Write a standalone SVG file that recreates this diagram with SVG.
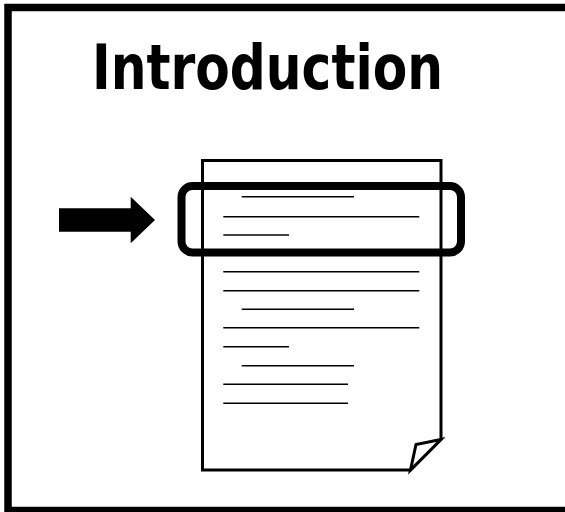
<svg xmlns="http://www.w3.org/2000/svg" width="565" height="512" viewBox="0 0 565 512">
<style>
.frame{fill:none;stroke:#000;stroke-width:7.5}
.doc{fill:#fff;stroke:#000;stroke-width:3;stroke-linejoin:miter}
.ln{stroke:#000;stroke-width:1.4}
.hl{fill:none;stroke:#000;stroke-width:8}
.title{font-family:"Comic Sans MS","DejaVu Sans",sans-serif;font-weight:bold;font-size:63px;fill:#000}
</style>
<rect width="565" height="512" fill="#fff"/>
<rect class="frame" x="8" y="7.5" width="580" height="503"/>
<g id="title">
<text class="title" x="92" y="89" textLength="351" lengthAdjust="spacingAndGlyphs">Introduction</text>
</g>
<g id="document">
<path class="doc" d="M202.5,160.5 H441 V439.5 L410.5,470 H202.5 Z"/>
<path class="doc" d="M410.5,470 L416,444.5 L441,439.5 Z"/>
<g id="text-lines">
<line class="ln" x1="241.7" y1="196.7" x2="354" y2="196.7"/>
<line class="ln" x1="223.3" y1="216.7" x2="419.3" y2="216.7"/>
<line class="ln" x1="223.3" y1="235" x2="289" y2="235"/>
<line class="ln" x1="223.3" y1="271.7" x2="419.3" y2="271.7"/>
<line class="ln" x1="223.3" y1="290.7" x2="419.3" y2="290.7"/>
<line class="ln" x1="241.7" y1="309.3" x2="354" y2="309.3"/>
<line class="ln" x1="223.3" y1="327.7" x2="419.3" y2="327.7"/>
<line class="ln" x1="223.3" y1="346.7" x2="289" y2="346.7"/>
<line class="ln" x1="241.7" y1="365.7" x2="354" y2="365.7"/>
<line class="ln" x1="223.3" y1="384.3" x2="348" y2="384.3"/>
<line class="ln" x1="223.3" y1="403.3" x2="348" y2="403.3"/>
</g>
</g>
<g id="highlight">
<rect class="hl" x="181.5" y="186" width="279.5" height="66.5" rx="11" ry="11"/>
</g>
<g id="connectors">
<path d="M59,208.3 H130.7 V196.7 L155,220 L130.7,243.3 V231.7 H59 Z" fill="#000"/>
</g>
</svg>
